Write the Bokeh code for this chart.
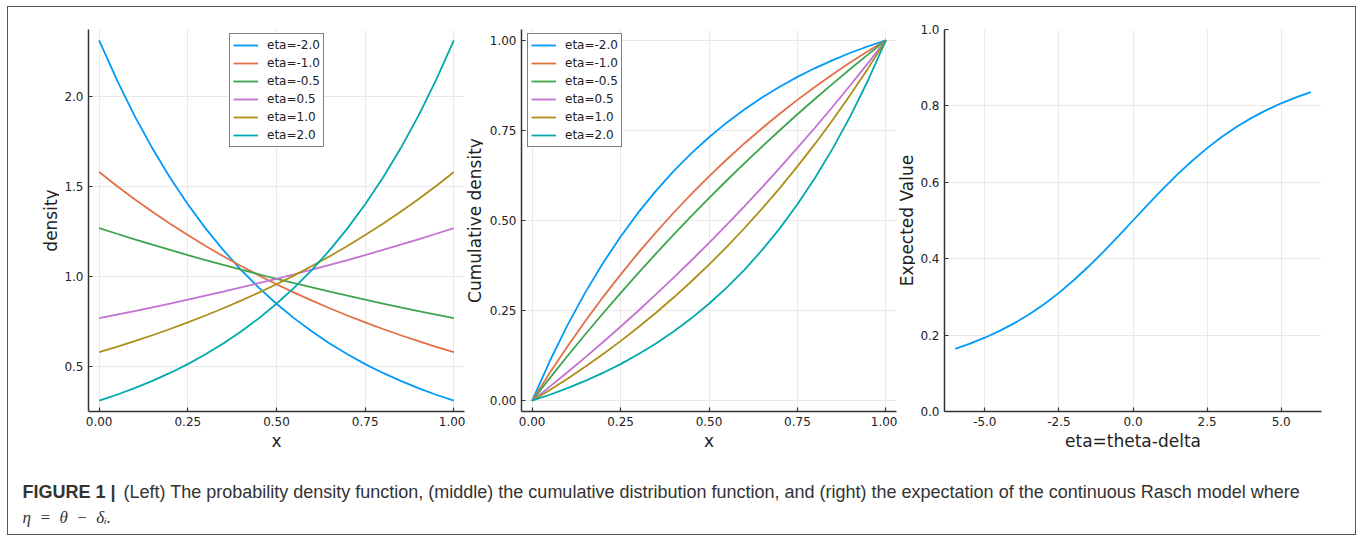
from bokeh.plotting import figure
from bokeh.layouts import row, column
from bokeh.models import Range1d, FixedTicker, Legend, LegendItem, Label, PrintfTickFormatter, Spacer
from bokeh.embed import file_html
from bokeh.resources import INLINE

# ---------------- data ----------------
x_vals = [0.00, 0.05, 0.10, 0.15, 0.20, 0.25, 0.30, 0.35, 0.40, 0.45, 0.50,
          0.55, 0.60, 0.65, 0.70, 0.75, 0.80, 0.85, 0.90, 0.95, 1.00]

series_labels = ["eta=-2.0", "eta=-1.0", "eta=-0.5", "eta=0.5", "eta=1.0", "eta=2.0"]
series_colors = ["#009AFA", "#E36F47", "#3EA44E", "#C371D2", "#AC8E18", "#00A9AD"]

dens_m20 = [2.3130, 2.0929, 1.8938, 1.7135, 1.5505, 1.4029, 1.2694, 1.1486, 1.0393, 0.9404, 0.8509,
            0.7699, 0.6967, 0.6304, 0.5704, 0.5161, 0.4670, 0.4226, 0.3823, 0.3460, 0.3130]
dens_m10 = [1.5820, 1.5048, 1.4314, 1.3616, 1.2952, 1.2321, 1.1720, 1.1148, 1.0604, 1.0087, 0.9595,
            0.9127, 0.8682, 0.8259, 0.7856, 0.7473, 0.7108, 0.6762, 0.6432, 0.6118, 0.5820]
dens_m05 = [1.2707, 1.2394, 1.2088, 1.1789, 1.1498, 1.1214, 1.0937, 1.0667, 1.0404, 1.0147, 0.9897,
            0.9652, 0.9414, 0.9182, 0.8955, 0.8734, 0.8518, 0.8308, 0.8103, 0.7903, 0.7707]
dens_p05 = [0.7707, 0.7903, 0.8103, 0.8308, 0.8518, 0.8734, 0.8955, 0.9182, 0.9414, 0.9652, 0.9897,
            1.0147, 1.0404, 1.0667, 1.0937, 1.1214, 1.1498, 1.1789, 1.2088, 1.2394, 1.2707]
dens_p10 = [0.5820, 0.6118, 0.6432, 0.6762, 0.7108, 0.7473, 0.7856, 0.8259, 0.8682, 0.9127, 0.9595,
            1.0087, 1.0604, 1.1148, 1.1720, 1.2321, 1.2952, 1.3616, 1.4314, 1.5048, 1.5820]
dens_p20 = [0.3130, 0.3460, 0.3823, 0.4226, 0.4670, 0.5161, 0.5704, 0.6304, 0.6967, 0.7699, 0.8509,
            0.9404, 1.0393, 1.1486, 1.2694, 1.4029, 1.5505, 1.7135, 1.8938, 2.0929, 2.3130]

cdf_m20 = [0.0, 0.1101, 0.2096, 0.2998, 0.3813, 0.4551, 0.5218, 0.5822, 0.6369, 0.6863, 0.7311,
           0.7715, 0.8082, 0.8413, 0.8713, 0.8985, 0.9230, 0.9452, 0.9654, 0.9835, 1.0]
cdf_m10 = [0.0, 0.0772, 0.1505, 0.2204, 0.2868, 0.3499, 0.4100, 0.4672, 0.5215, 0.5733, 0.6225,
           0.6693, 0.7138, 0.7561, 0.7964, 0.8347, 0.8711, 0.9058, 0.9388, 0.9702, 1.0]
cdf_m05 = [0.0, 0.0627, 0.1240, 0.1836, 0.2419, 0.2986, 0.3540, 0.4080, 0.4607, 0.5121, 0.5622,
           0.6110, 0.6587, 0.7052, 0.7505, 0.7948, 0.8379, 0.8799, 0.9210, 0.9610, 1.0]
cdf_p05 = [0.0, 0.0390, 0.0790, 0.1201, 0.1621, 0.2052, 0.2495, 0.2948, 0.3413, 0.3890, 0.4378,
           0.4879, 0.5393, 0.5920, 0.6460, 0.7014, 0.7581, 0.8164, 0.8760, 0.9373, 1.0]
cdf_p10 = [0.0, 0.0298, 0.0612, 0.0942, 0.1289, 0.1653, 0.2036, 0.2439, 0.2862, 0.3307, 0.3775,
           0.4267, 0.4785, 0.5328, 0.5900, 0.6501, 0.7132, 0.7796, 0.8495, 0.9228, 1.0]
cdf_p20 = [0.0, 0.0165, 0.0347, 0.0548, 0.0770, 0.1015, 0.1287, 0.1587, 0.1918, 0.2285, 0.2689,
           0.3137, 0.3631, 0.4178, 0.4782, 0.5450, 0.6187, 0.7002, 0.7904, 0.8899, 1.0]

eta_vals = [-6.0, -5.5, -5.0, -4.5, -4.0, -3.5, -3.0, -2.5, -2.0, -1.5, -1.0, -0.5, 0.0,
            0.5, 1.0, 1.5, 2.0, 2.5, 3.0, 3.5, 4.0, 4.5, 5.0, 5.5, 6.0]
expected_vals = [0.1642, 0.1777, 0.1932, 0.2110, 0.2313, 0.2546, 0.2809, 0.3106, 0.3435, 0.3795,
                 0.4180, 0.4585, 0.5000, 0.5415, 0.5820, 0.6206, 0.6565, 0.6894, 0.7191, 0.7454,
                 0.7687, 0.7890, 0.8068, 0.8223, 0.8358]

density_series = [dens_m20, dens_m10, dens_m05, dens_p05, dens_p10, dens_p20]
cdf_series = [cdf_m20, cdf_m10, cdf_m05, cdf_p05, cdf_p10, cdf_p20]

x_ticks_01 = [0.0, 0.25, 0.5, 0.75, 1.0]
y_ticks_density = [0.5, 1.0, 1.5, 2.0]
y_ticks_cdf = [0.0, 0.25, 0.5, 0.75, 1.0]
x_ticks_eta = [-5.0, -2.5, 0.0, 2.5, 5.0]
y_ticks_expected = [0.0, 0.2, 0.4, 0.6, 0.8, 1.0]

y_titles = ["density", "Cumulative density", "Expected Value"]
x_titles = ["x", "x", "eta=theta-delta"]

caption_bold = "FIGURE 1 |"
caption_text = ("(Left) The probability density function, (middle) the cumulative distribution function, "
                "and (right) the expectation of the continuous Rasch model where")
caption_math = "\u03b7\u2002=\u2002\u03b8\u2002\u2212\u2002\u03b4\u1d62."

FONT = "DejaVu Sans"
LINE_W = 1.8
PANEL_H = 452
FRAME_H = 382


def style(p, xticks, yticks, xfmt, yfmt, xlabel):
    p.outline_line_color = None
    p.background_fill_color = "white"
    p.border_fill_color = "white"
    p.xaxis.ticker = FixedTicker(ticks=xticks)
    p.yaxis.ticker = FixedTicker(ticks=yticks)
    p.xgrid.ticker = FixedTicker(ticks=xticks)
    p.ygrid.ticker = FixedTicker(ticks=yticks)
    p.xaxis.formatter = PrintfTickFormatter(format=xfmt)
    p.yaxis.formatter = PrintfTickFormatter(format=yfmt)
    p.grid.grid_line_color = "#e9e9e9"
    p.grid.grid_line_width = 1
    for ax in (p.xaxis, p.yaxis):
        ax.axis_line_color = "#333333"
        ax.axis_line_width = 1.5
        ax.major_tick_line_color = "#333333"
        ax.major_tick_line_width = 1.2
        ax.major_tick_in = 4
        ax.major_tick_out = 0
        ax.minor_tick_line_color = None
        ax.major_label_text_font = FONT
        ax.major_label_text_font_size = "12px"
        ax.major_label_text_color = "#222222"
        ax.major_label_standoff = 5
        ax.axis_label_text_font = FONT
        ax.axis_label_text_font_size = "17px"
        ax.axis_label_text_font_style = "normal"
        ax.axis_label_text_color = "#222222"
    p.xaxis.axis_label = xlabel
    p.xaxis.axis_label_standoff = 2


def title_strip(width, text, cx):
    """Narrow blank canvas that carries a rotated y-axis title (its frame is aligned with the panels)."""
    s = figure(width=width, height=PANEL_H, x_range=Range1d(0, 1), y_range=Range1d(0, 1),
               toolbar_location=None, output_backend="svg", min_border=0,
               x_axis_type=None, y_axis_type=None)
    s.outline_line_color = None
    s.grid.visible = False
    s.add_layout(Label(x=cx, y=FRAME_H / 2, x_units="screen", y_units="screen",
                       text=text, angle=90, angle_units="deg",
                       text_align="center", text_baseline="middle",
                       text_font=FONT, text_font_size="17px", text_color="#222222"))
    return s


def add_legend(p, renderers, loc):
    items = [LegendItem(label=lab, renderers=[r]) for lab, r in zip(series_labels, renderers)]
    lg = Legend(items=items, location=loc, margin=0, padding=3, spacing=2,
                glyph_width=25, glyph_height=16, label_height=16, label_standoff=9,
                label_text_font=FONT, label_text_font_size="12px", label_text_color="#222222",
                border_line_color="#000000", border_line_width=1.2,
                background_fill_color="white", background_fill_alpha=1.0)
    p.add_layout(lg)


common = dict(toolbar_location=None, output_backend="svg", min_border_top=22, min_border_bottom=48)

# ---- panel 1: density ----
p1 = figure(width=406, height=PANEL_H, x_range=Range1d(-0.03, 1.03), y_range=Range1d(0.253, 2.373),
            min_border_left=29, min_border_right=1, **common)
r1 = [p1.line(x_vals, ys, line_color=c, line_width=LINE_W) for ys, c in zip(density_series, series_colors)]
style(p1, x_ticks_01, y_ticks_density, "%.2f", "%.1f", x_titles[0])
add_legend(p1, r1, (141, 264))

# ---- panel 2: cdf ----
p2 = figure(width=414, height=PANEL_H, x_range=Range1d(-0.03, 1.03), y_range=Range1d(-0.03, 1.03),
            min_border_left=38, min_border_right=1, **common)
r2 = [p2.line(x_vals, ys, line_color=c, line_width=LINE_W) for ys, c in zip(cdf_series, series_colors)]
style(p2, x_ticks_01, y_ticks_cdf, "%.2f", "%.2f", x_titles[1])
add_legend(p2, r2, (6, 264))

# ---- panel 3: expected value ----
p3 = figure(width=440, height=PANEL_H, x_range=Range1d(-6.36, 6.36), y_range=Range1d(0.0, 1.0),
            min_border_left=29, min_border_right=34, **common)
p3.line(eta_vals, expected_vals, line_color="#009AFA", line_width=LINE_W)
style(p3, x_ticks_eta, y_ticks_expected, "%.1f", "%.1f", x_titles[2])

t1 = title_strip(51, y_titles[0], 42)
t2 = title_strip(18, y_titles[1], 9)
t3 = title_strip(18, y_titles[2], 9)

# ---- caption ----
pc = figure(width=1347, height=75, x_range=Range1d(0, 1), y_range=Range1d(0, 1),
            toolbar_location=None, output_backend="svg", min_border=0,
            x_axis_type=None, y_axis_type=None)
pc.outline_line_color = None
pc.grid.visible = False
pc.add_layout(Label(x=14, y=43, x_units="screen", y_units="screen", text=caption_bold,
                    text_font="Liberation Sans", text_font_style="bold", text_font_size="18px",
                    text_color="#333333", text_baseline="alphabetic"))
pc.add_layout(Label(x=115, y=43, x_units="screen", y_units="screen", text=caption_text,
                    text_font="Liberation Sans", text_font_size="18px",
                    text_color="#333333", text_baseline="alphabetic"))
pc.add_layout(Label(x=14, y=17, x_units="screen", y_units="screen", text=caption_math,
                    text_font="Liberation Serif", text_font_style="italic", text_font_size="17px",
                    text_color="#333333", text_baseline="alphabetic"))

inner = column(row(t1, p1, t2, p2, t3, p3), pc, styles={"border": "1px solid #555555"})
layout = column(Spacer(height=6, width=10), row(Spacer(width=7, height=10), inner))

with open("out.html", "w") as f:
    f.write(file_html(layout, INLINE))
